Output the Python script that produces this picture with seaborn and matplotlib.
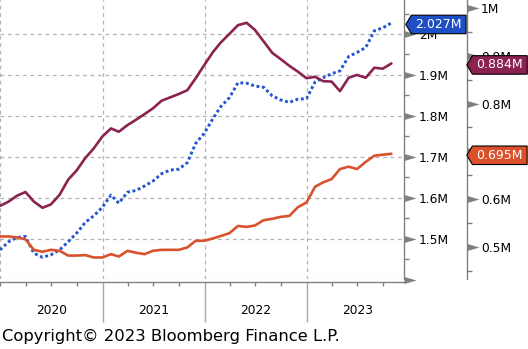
import numpy as np
import pandas as pd
import matplotlib
matplotlib.use("Agg")
import matplotlib.pyplot as plt
import matplotlib.dates as mdates
import matplotlib.transforms as mtransforms
from matplotlib.path import Path
from matplotlib.ticker import FixedLocator, FuncFormatter
import seaborn as sns

# Monthly observations (month-end), Dec 2019 - Oct 2023, in millions of units
dates = pd.date_range("2019-12-31", periods=47, freq="ME")

units_left = [1.473, 1.493, 1.503, 1.506, 1.465, 1.455, 1.461, 1.473, 1.493, 1.514,
              1.540, 1.556, 1.577, 1.607, 1.587, 1.614, 1.618, 1.629, 1.641, 1.659,
              1.668, 1.670, 1.686, 1.733, 1.758, 1.794, 1.823, 1.845, 1.881, 1.880,
              1.873, 1.870, 1.849, 1.839, 1.833, 1.841, 1.842, 1.883, 1.893, 1.903,
              1.910, 1.945, 1.955, 1.967, 2.008, 2.015, 2.027]

maroon_vals = [0.586, 0.595, 0.607, 0.615, 0.595, 0.582, 0.589, 0.609, 0.641, 0.660,
               0.686, 0.706, 0.731, 0.748, 0.741, 0.755, 0.766, 0.778, 0.790, 0.806,
               0.813, 0.820, 0.828, 0.853, 0.881, 0.908, 0.928, 0.946, 0.964, 0.969,
               0.954, 0.930, 0.906, 0.893, 0.879, 0.867, 0.853, 0.856, 0.847, 0.846,
               0.826, 0.854, 0.860, 0.854, 0.875, 0.873, 0.884]

orange_vals = [0.522, 0.522, 0.520, 0.516, 0.494, 0.490, 0.494, 0.492, 0.482, 0.482,
               0.483, 0.478, 0.478, 0.485, 0.480, 0.492, 0.488, 0.485, 0.492, 0.494,
               0.494, 0.494, 0.499, 0.513, 0.513, 0.518, 0.523, 0.529, 0.544, 0.542,
               0.545, 0.556, 0.559, 0.563, 0.565, 0.583, 0.593, 0.626, 0.635, 0.642,
               0.663, 0.668, 0.663, 0.678, 0.691, 0.693, 0.695]

left_ticks = [1.4, 1.5, 1.6, 1.7, 1.8, 1.9, 2.0]
right_ticks = [0.5, 0.6, 0.7, 0.8, 0.9, 1.0]
year_labels = ["2020", "2021", "2022", "2023"]

BLUE = "#2456d0"
MAROON = "#8b2350"
ORANGE = "#d9522b"
TAG_BLUE = "#1f4fc6"
TAG_MAROON = "#8b2250"
TAG_ORANGE = "#d9502b"
AXGRAY = "#808080"
GRID = "#b4b4b4"

df = pd.DataFrame({"date": dates, "left": units_left,
                   "maroon": maroon_vals, "orange": orange_vals})

sns.set_theme(style="white")
plt.rcParams["font.family"] = ["DejaVu Sans"]

W, H = 528, 349
fig = plt.figure(figsize=(W / 100, H / 100), dpi=100)
ax = fig.add_axes([0, 70 / H, 404 / W, 279 / H])
ax2 = ax.twinx()

sns.lineplot(data=df, x="date", y="left", ax=ax, color=BLUE, linewidth=2.1,
             linestyle=(0, (1, 0.9)))
sns.lineplot(data=df, x="date", y="maroon", ax=ax2, color=MAROON, linewidth=1.9)
sns.lineplot(data=df, x="date", y="orange", ax=ax2, color=ORANGE, linewidth=1.9)

ax.set_xlim(pd.Timestamp("2019-12-31"), pd.Timestamp("2023-12-15"))
ax.set_ylim(1.402, 2.083)
ax2.set_ylim(0.433, 1.0167)
for a in (ax, ax2):
    a.set_xlabel("")
    a.set_ylabel("")
    a.set_facecolor("none")

# ---- y axes: both on the right, the second one pushed outward
fmt = FuncFormatter(lambda v, p: f"{v:g}M")
ax.yaxis.tick_right()
ax.yaxis.set_major_locator(FixedLocator(left_ticks))
ax.yaxis.set_major_formatter(FuncFormatter(lambda v, p: "" if v < 1.45 else f"{v:g}M"))
ax.yaxis.set_minor_locator(FixedLocator(np.arange(1.45, 2.1, 0.1)))
ax2.yaxis.set_major_locator(FixedLocator(right_ticks))
ax2.yaxis.set_major_formatter(fmt)
ax2.yaxis.set_minor_locator(FixedLocator(np.arange(0.45, 1.01, 0.1)))

for a, pad in ((ax, 10.8), (ax2, 10.1)):
    a.tick_params(axis="y", which="major", length=0, pad=pad, labelsize=8.8,
                  labelcolor="black", right=True, left=False)
    a.tick_params(axis="y", which="minor", length=3.6, width=1, color=AXGRAY,
                  direction="out", right=True, left=False)

for s in ("top", "left"):
    ax.spines[s].set_visible(False)
    ax2.spines[s].set_visible(False)
ax2.spines["bottom"].set_visible(False)
ax.spines["right"].set_color(AXGRAY)
ax.spines["right"].set_linewidth(1)
ax2.spines["right"].set_position(("outward", 63 * 0.72))
ax2.spines["right"].set_color(AXGRAY)
ax2.spines["right"].set_linewidth(1)
ax.spines["bottom"].set_position(("outward", 3 * 0.72))
ax.spines["bottom"].set_color(AXGRAY)
ax.spines["bottom"].set_linewidth(1)

# triangular major tick marks pointing away from each spine
tri = Path([(0, -0.29), (1, 0), (0, 0.29), (0, -0.29)],
           [Path.MOVETO, Path.LINETO, Path.LINETO, Path.CLOSEPOLY])
t_left = mtransforms.blended_transform_factory(ax.transAxes, ax.transData)
ax.plot([1] * len(left_ticks), left_ticks, transform=t_left, linestyle="none",
        marker=tri, ms=17.3, color=AXGRAY, mec="none", clip_on=False, zorder=5)
t_right = mtransforms.blended_transform_factory(ax2.transAxes, ax2.transData) + \
    mtransforms.ScaledTranslation(0.63, 0, fig.dpi_scale_trans)
ax2.plot([1] * len(right_ticks), right_ticks, transform=t_right, linestyle="none",
         marker=tri, ms=17.3, color=AXGRAY, mec="none", clip_on=False, zorder=5)

# ---- x axis: quarters, long separators at year starts, centred year labels
year_starts = [pd.Timestamp(f"{y}-01-01") for y in (2021, 2022, 2023)]
quarters = pd.date_range("2020-01-01", "2023-12-01", freq="QS")
ax.xaxis.set_major_locator(FixedLocator(mdates.date2num(year_starts)))
ax.xaxis.set_minor_locator(FixedLocator(mdates.date2num(quarters)))
ax.tick_params(axis="x", which="major", length=40 * 0.72, width=1, color="#a8a8a8",
               labelbottom=False, bottom=True)
ax.tick_params(axis="x", which="minor", length=4 * 0.72, width=1, color=AXGRAY,
               bottom=True)
ax2.tick_params(axis="x", which="both", bottom=False, labelbottom=False)

tx = mtransforms.blended_transform_factory(ax.transData, ax.transAxes)
for lab in year_labels:
    ax.text(pd.Timestamp(f"{lab}-07-01"), -32 / 279, lab, transform=tx,
            ha="center", va="center", fontsize=8.8, color="black")

# ---- dashed grid
ax.grid(False)
ax2.grid(False)
for v in left_ticks[1:]:
    ax.axhline(v, color=GRID, lw=0.9, linestyle=(0, (3, 3)), zorder=0)
ax.axhline(1.402, color=GRID, lw=0.9, linestyle=(0, (3, 3)), zorder=0)
for d in [pd.Timestamp("2020-01-01")] + year_starts:
    ax.axvline(d, color=GRID, lw=0.9, linestyle=(0, (3, 3)), zorder=0)


# ---- last-value tags
def tag_shape(x0, y0, width, height, mutation_size):
    px = 0.33 * mutation_size
    py = 0.22 * mutation_size
    x0, y0 = x0 - px, y0 - py
    width, height = width + 2 * px, height + 2 * py
    tip = 0.3 * height
    verts = [(x0 - tip, y0 + height / 2), (x0, y0), (x0 + width, y0),
             (x0 + width, y0 + height), (x0, y0 + height), (x0 - tip, y0 + height / 2)]
    return Path(verts, [Path.MOVETO] + [Path.LINETO] * 4 + [Path.CLOSEPOLY])


def last_tag(axis, value, color, dx):
    tr = mtransforms.blended_transform_factory(axis.transAxes, axis.transData)
    axis.annotate(f"{value:.3f}M", xy=(1, value), xycoords=tr,
                  xytext=(dx, 0), textcoords="offset pixels",
                  ha="left", va="center_baseline", fontsize=9.0, color="white",
                  bbox=dict(boxstyle=tag_shape, fc=color, ec="black", lw=0.8),
                  annotation_clip=False, zorder=10)


last_tag(ax, units_left[-1], TAG_BLUE, 11.5)
last_tag(ax2, maroon_vals[-1], TAG_MAROON, 72.5)
last_tag(ax2, orange_vals[-1], TAG_ORANGE, 72.5)

fig.text(2 / W, 7.5 / H, "Copyright\u00a9 2023 Bloomberg Finance L.P.",
         ha="left", va="baseline", fontsize=11.8, color="black")

fig.savefig("out.png", dpi=100)
